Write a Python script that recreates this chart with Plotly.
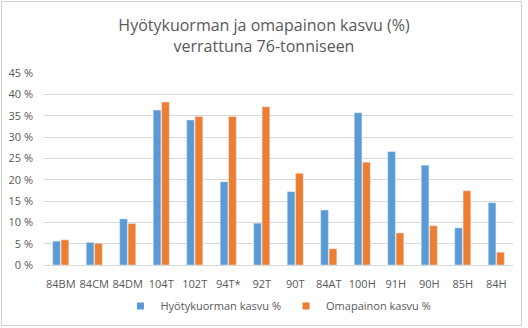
import plotly.graph_objects as go

categories = ["84BM", "84CM", "84DM", "104T", "102T", "94T*", "92T", "90T",
              "84AT", "100H", "91H", "90H", "85H", "84H"]
payload_growth = [5.6, 5.3, 10.8, 36.3, 34.0, 19.5, 9.8, 17.2, 12.9, 35.7, 26.6, 23.4, 8.7, 14.6]
tare_growth = [5.9, 5.1, 9.7, 38.2, 34.8, 34.8, 37.1, 21.5, 3.8, 24.1, 7.5, 9.2, 17.4, 3.0]
y_ticks = [0, 5, 10, 15, 20, 25, 30, 35, 40, 45]
y_tick_text = [f"{v} %" for v in y_ticks]
series_names = ["Hyötykuorman kasvu %", "Omapainon kasvu %"]
series_colors = ["#5B9BD5", "#ED7D31"]

W, H = 528, 328
L, R, T, B = 44, 15, 73, 63
pw, ph = W - L - R, H - T - B

fig = go.Figure()
for name, vals, col in zip(series_names, [payload_growth, tare_growth], series_colors):
    fig.add_trace(go.Bar(name=name, x=categories, y=vals, marker_color=col,
                         showlegend=False, legendgroup=name))
    # small square swatch for the legend
    fig.add_trace(go.Scatter(name=name, x=[None], y=[None], mode="markers",
                             marker=dict(symbol="square", size=7, color=col),
                             legendgroup=name, hoverinfo="skip"))

font_family = "Open Sans, Liberation Sans, sans-serif"
fig.update_layout(
    width=W, height=H,
    margin=dict(l=L, r=R, t=T, b=B, autoexpand=False),
    paper_bgcolor="white", plot_bgcolor="white",
    barmode="group", bargap=0.5, bargroupgap=0.08,
    font=dict(family=font_family, color="#595959", size=11),
    title=dict(text="Hyötykuorman ja omapainon kasvu (%)<br>verrattuna 76-tonniseen",
               x=0.5, xanchor="center", y=1 - 31 / H, yanchor="middle",
               font=dict(size=16, color="#595959", family=font_family)),
    xaxis=dict(showgrid=False, showline=True, linecolor="#D9D9D9", ticks="",
               ticklabelstandoff=9,
               tickfont=dict(size=11, color="#595959")),
    yaxis=dict(range=[0, 45], tickvals=y_ticks, ticktext=y_tick_text,
               showgrid=True, gridcolor="#D9D9D9", zeroline=False,
               ticks="", ticklabelstandoff=10,
               tickfont=dict(size=11, color="#595959")),
    legend=dict(orientation="h", x=0.5, xanchor="center", itemwidth=30,
                y=(ph - (306 - T)) / ph, yanchor="middle",
                font=dict(size=11, color="#595959")),
    showlegend=True,
)

# light outer frame around the whole chart
fig.add_shape(type="rect", xref="paper", yref="paper",
              x0=(1.5 - L) / pw, x1=(521.5 - L) / pw,
              y0=(ph - (325.5 - T)) / ph, y1=(ph - (1.5 - T)) / ph,
              line=dict(color="#D0D0D0", width=1), layer="above")

fig.write_html("out.html")
